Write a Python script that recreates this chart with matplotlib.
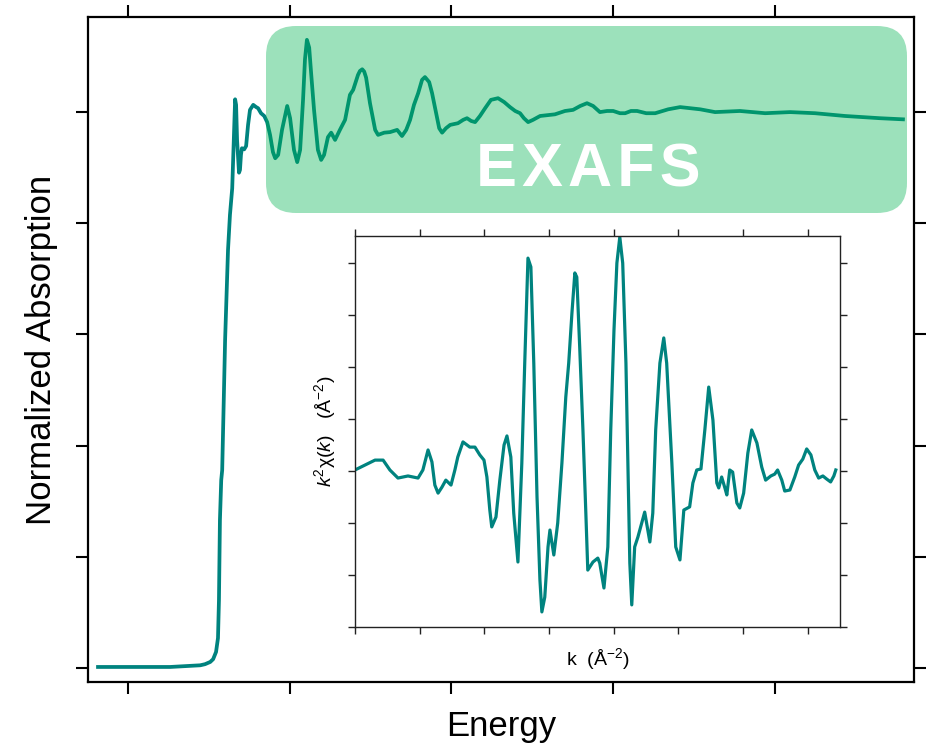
import matplotlib.pyplot as plt
from matplotlib.patches import FancyBboxPatch

# Cu K-edge absorption spectrum (normalized)
energy = [
    8940.7, 8950.6, 8956.8, 8963.0, 8969.2, 8972.3, 8973.8, 8975.4, 8976.3, 8977.2,
    8977.8, 8978.1, 8978.4, 8978.8, 8979.1, 8980.0, 8980.9, 8981.5, 8982.2, 8982.8,
    8983.1, 8983.4, 8983.7, 8984.3, 8984.6, 8984.9, 8985.2, 8985.9, 8986.5, 8987.1,
    8987.7, 8988.7, 8989.6, 8990.2, 8991.1, 8992.1, 8993.0, 8993.9, 8994.8, 8995.5,
    8996.4, 8997.6, 8999.2, 9000.1, 9001.3, 9002.3, 9003.2, 9004.1, 9004.7, 9005.3,
    9006.0, 9006.6, 9007.5, 9008.7, 9009.7, 9010.6, 9011.8, 9012.8, 9014.0, 9015.5,
    9017.1, 9018.6, 9019.6, 9021.1, 9021.7, 9022.4, 9023.0, 9023.6, 9024.8, 9026.4,
    9027.3, 9029.2, 9031.0, 9033.2, 9034.7, 9036.0, 9037.2, 9038.4, 9039.7, 9040.9,
    9041.8, 9043.1, 9044.0, 9045.2, 9046.2, 9047.1, 9048.3, 9049.6, 9052.0, 9053.6,
    9054.8, 9056.1, 9057.3, 9058.8, 9060.4, 9062.2, 9064.4, 9066.3, 9068.1, 9069.7,
    9071.2, 9072.4, 9073.7, 9075.2, 9077.4, 9082.0, 9085.1, 9087.6, 9089.8, 9091.9,
    9093.8, 9095.9, 9098.1, 9100.0, 9102.1, 9103.7, 9105.5, 9107.4, 9110.2, 9113.0,
    9117.0, 9120.7, 9126.9, 9131.5, 9139.2, 9147.0, 9154.7, 9162.4, 9171.7, 9182.5,
    9189.6,
]
mu = [
    0.002, 0.002, 0.002, 0.002, 0.004, 0.005, 0.007, 0.011, 0.016, 0.029,
    0.054, 0.122, 0.266, 0.338, 0.356, 0.590, 0.752, 0.815, 0.863, 0.968,
    1.023, 1.013, 0.950, 0.891, 0.896, 0.923, 0.935, 0.933, 0.939, 0.977,
    1.004, 1.013, 1.009, 1.007, 0.998, 0.993, 0.982, 0.959, 0.928, 0.917,
    0.923, 0.968, 1.011, 0.989, 0.932, 0.910, 0.932, 1.022, 1.095, 1.130,
    1.116, 1.070, 1.004, 0.932, 0.914, 0.923, 0.955, 0.963, 0.950, 0.968,
    0.986, 1.031, 1.040, 1.067, 1.074, 1.077, 1.073, 1.062, 1.016, 0.968,
    0.959, 0.963, 0.964, 0.968, 0.957, 0.968, 0.986, 1.013, 1.034, 1.058,
    1.063, 1.054, 1.034, 1.000, 0.971, 0.963, 0.971, 0.977, 0.980, 0.986,
    0.989, 0.984, 0.982, 0.993, 1.007, 1.022, 1.025, 1.018, 1.009, 1.002,
    0.998, 0.989, 0.982, 0.986, 0.993, 0.996, 1.002, 1.004, 1.011, 1.016,
    1.011, 1.000, 1.002, 1.002, 0.998, 0.998, 1.002, 1.002, 0.998, 0.998,
    1.005, 1.009, 1.005, 1.000, 1.002, 0.998, 1.000, 0.998, 0.993, 0.989,
    0.987,
]

# k^2-weighted EXAFS oscillations
k = [
    0.00, 0.31, 0.62, 0.87, 1.08, 1.33, 1.64, 1.95, 2.10, 2.26,
    2.38, 2.47, 2.57, 2.69, 2.81, 2.97, 3.09, 3.18, 3.34, 3.55,
    3.71, 3.86, 3.99, 4.08, 4.17, 4.23, 4.36, 4.48, 4.61, 4.70,
    4.82, 4.91, 5.04, 5.16, 5.25, 5.35, 5.44, 5.53, 5.63, 5.72,
    5.78, 5.87, 5.97, 6.03, 6.15, 6.27, 6.40, 6.52, 6.61, 6.71,
    6.80, 6.86, 6.95, 7.05, 7.14, 7.20, 7.36, 7.51, 7.57, 7.70,
    7.82, 7.91, 8.01, 8.10, 8.19, 8.28, 8.38, 8.44, 8.50, 8.56,
    8.65, 8.75, 8.96, 9.12, 9.21, 9.30, 9.43, 9.55, 9.64, 9.80,
    9.92, 10.05, 10.17, 10.35, 10.45, 10.57, 10.70, 10.82, 10.94, 11.07,
    11.19, 11.25, 11.34, 11.44, 11.50, 11.59, 11.68, 11.81, 11.90, 12.02,
    12.15, 12.27, 12.43, 12.58, 12.70, 12.86, 12.98, 13.07, 13.20, 13.29,
    13.45, 13.60, 13.72, 13.85, 13.97, 14.10, 14.22, 14.34, 14.47, 14.59,
    14.71, 14.81, 14.87,
]
chi = [
    0.04, 0.23, 0.42, 0.42, 0.04, -0.27, -0.19, -0.27, 0.04, 0.81,
    0.35, -0.54, -0.85, -0.62, -0.35, -0.54, 0.04, 0.54, 1.12, 0.92,
    0.92, 0.62, 0.42, -0.23, -1.50, -2.15, -1.77, -0.35, 1.00, 1.35,
    0.54, -1.62, -3.50, 0.31, 4.15, 8.19, 7.85, 4.15, -1.00, -4.19,
    -5.42, -4.85, -2.92, -2.27, -3.23, -2.00, 0.31, 2.85, 4.15, 6.08,
    7.62, 7.46, 4.77, 1.58, -1.62, -3.81, -3.50, -3.35, -3.54, -4.50,
    -2.92, 1.58, 5.42, 8.00, 9.00, 8.00, 4.15, 0.31, -3.54, -5.15,
    -2.92, -2.54, -1.58, -2.73, -1.62, 1.58, 4.15, 5.12, 4.15, 0.31,
    -2.92, -3.42, -1.50, -1.38, -0.46, 0.04, 0.08, 1.58, 3.23, 1.96,
    -0.46, -0.65, -0.23, -0.65, -0.92, 0.04, -0.04, -1.23, -1.42, -0.85,
    0.69, 1.58, 1.08, 0.15, -0.35, -0.19, -0.12, 0.04, -0.35, -0.77,
    -0.73, -0.23, 0.23, 0.46, 0.85, 0.62, 0.04, -0.27, -0.19, -0.31,
    -0.42, -0.19, 0.04,
]

energy_ticks = [8950, 9000, 9050, 9100, 9150]
mu_ticks = [0.0, 0.2, 0.4, 0.6, 0.8, 1.0]
k_ticks = [0, 2, 4, 6, 8, 10, 12, 14]
chi_ticks = [-6, -4, -2, 0, 2, 4, 6, 8]

line_color = '#00837f'

plt.rcParams['font.family'] = ['Liberation Sans', 'DejaVu Sans']
plt.rcParams['mathtext.fontset'] = 'custom'
plt.rcParams['mathtext.rm'] = 'Liberation Sans'
plt.rcParams['mathtext.it'] = 'Liberation Sans:italic'

fig = plt.figure(figsize=(9.29, 7.5), dpi=100)

# main spectrum
ax = fig.add_axes([0.0947, 0.0907, 0.8891, 0.8866])
ax.plot(energy, mu, color=line_color, lw=2.7, solid_joinstyle='round')
ax.set_xlim(8937.6, 9193.0)
ax.set_ylim(-0.025, 1.171)
ax.set_xticks(energy_ticks)
ax.set_yticks(mu_ticks)
ax.tick_params(direction='out', length=8.6, width=1.5, top=True, right=True,
               labelbottom=False, labelleft=False)
for sp in ax.spines.values():
    sp.set_linewidth(1.6)
ax.set_xlabel('Energy', fontsize=25)
ax.xaxis.set_label_coords(0.5, -0.042)
ax.xaxis.label.set_va('top')
ax.set_ylabel('Normalized Absorption', fontsize=25)
ax.yaxis.set_label_coords(-0.036, 0.5)

# highlighted EXAFS region
over = fig.add_axes([0, 0, 1, 1], zorder=5)
over.set_xlim(0, 929)
over.set_ylim(750, 0)
over.axis('off')
box = FancyBboxPatch((266, 26), 641, 187,
                     boxstyle='round,pad=0,rounding_size=30',
                     facecolor=(0.0, 0.70, 0.32), edgecolor='none', alpha=0.39)
over.add_patch(box)
over.text(588, 171, '\u200aE\u200aX\u200aA\u200aF\u200aS\u200a', color='white',
          fontsize=44, fontweight='bold', ha='center', va='center')

# inset: k^2 chi(k)
ins = fig.add_axes([0.3821, 0.164, 0.5221, 0.5213], zorder=6)
ins.plot(k, chi, color=line_color, lw=2.3, solid_joinstyle='round')
ins.set_xlim(0, 15)
ins.set_ylim(-6, 9.04)
ins.set_xticks(k_ticks)
ins.set_yticks(chi_ticks)
ins.tick_params(direction='out', length=5, width=1, colors='#222222',
                top=True, right=True, labelbottom=False, labelleft=False)
for sp in ins.spines.values():
    sp.set_linewidth(1.0)
    sp.set_color('#222222')
ins.set_xlabel(r'k  (Å$^{-2}$)', fontsize=14)
ins.xaxis.set_label_coords(0.5, -0.05)
ins.xaxis.label.set_va('top')
ins.set_ylabel(r'$k^{2}$χ$(k)$   (Å$^{-2}$)', fontsize=14)
ins.yaxis.set_label_coords(-0.034, 0.5)

fig.savefig('out.png', dpi=100)
